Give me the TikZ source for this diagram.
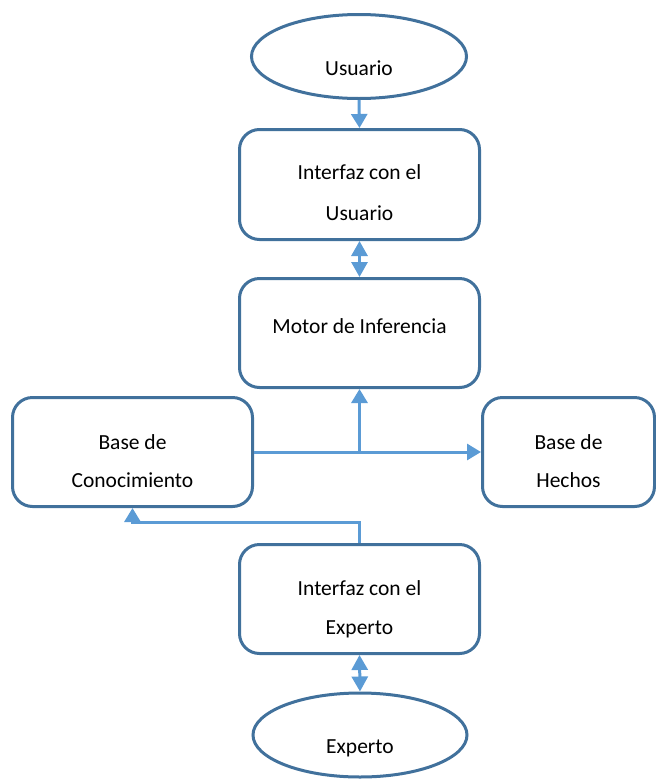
\documentclass[tikz,border=0pt]{standalone}
\usepackage{fontspec}
\setmainfont{Carlito}
\usetikzlibrary{shapes.geometric,arrows.meta}
\definecolor{boxc}{HTML}{41719C}
\definecolor{arrc}{HTML}{5B9BD5}
\tikzset{
  ell/.style={draw=boxc,line width=3pt,ellipse,inner sep=0pt,fill=white},
  rbox/.style={draw=boxc,line width=3pt,rectangle,rounded corners=20pt,inner sep=0pt,fill=white},
  txt/.style={anchor=base,inner sep=0pt,font=\fontsize{21.5}{25}\selectfont},
  arr/.style={draw=arrc,line width=3pt,-{Triangle[width=16pt,length=14pt]}},
  darr/.style={draw=arrc,line width=3pt,{Triangle[width=16pt,length=15pt]}-{Triangle[width=16pt,length=15pt]}},
}
\begin{document}
\begin{tikzpicture}[x=1pt,y=-1pt]
\useasboundingbox (0,0) rectangle (656,780);
% shapes
\node[ell,minimum width=215pt,minimum height=84pt] (u) at (359,56.5) {};
\node[rbox,minimum width=240pt,minimum height=110pt] (iu) at (359.5,184.5) {};
\node[rbox,minimum width=240pt,minimum height=109pt] (m) at (359.5,333) {};
\node[rbox,minimum width=240pt,minimum height=109pt] (bc) at (132.5,452) {};
\node[rbox,minimum width=172pt,minimum height=109pt] (bh) at (568.5,452) {};
\node[rbox,minimum width=240pt,minimum height=109pt] (ie) at (359.5,599) {};
\node[ell,minimum width=214pt,minimum height=84pt] (e) at (360,735) {};
% texts
\node[txt] (tu) at (359,75.5) {Usuario};
\node[txt] (tiu1) at (359.5,179.5) {Interfaz con el};
\node[txt] (tiu2) at (359.5,220.5) {Usuario};
\node[txt] (tm) at (359.5,333.5) {Motor de Inferencia};
\node[txt] (tbc1) at (132.5,449.5) {Base de};
\node[txt] (tbc2) at (132.5,487.5) {Conocimiento};
\node[txt] (tbh1) at (568.5,449.5) {Base de};
\node[txt] (tbh2) at (568.5,487.5) {Hechos};
\node[txt] (tie1) at (359.5,595.5) {Interfaz con el};
\node[txt] (tie2) at (359.5,634.5) {Experto};
\node[txt] (te) at (360,753.5) {Experto};
% connectors
\draw[arr] (u.south) -- (iu.north);
\draw[darr] (iu.south) -- (m.north);
\draw[arr] (bc.east) -- (bh.west);
\coordinate (j) at (359.5,452);
\draw[arr] (j) -- (m.south);
\coordinate (k) at (359.5,522);
\draw[arr] (ie.north) -- (k) -| (bc.south);
\draw[darr] (ie.south) -- (e.north);
\end{tikzpicture}
\end{document}
